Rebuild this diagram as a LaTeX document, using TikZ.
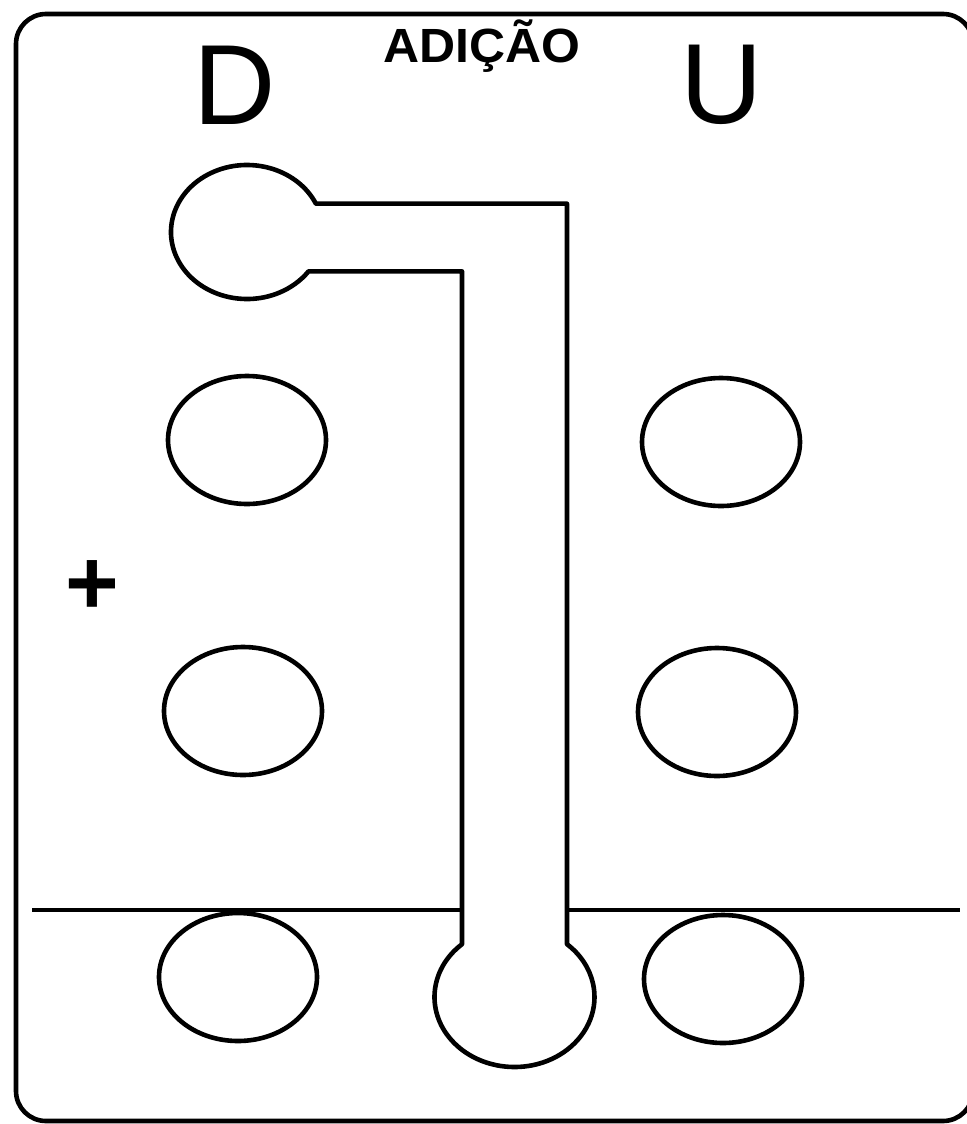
\documentclass[tikz,border=0pt]{standalone}
\usepackage{fontspec}
\setmainfont{Liberation Sans}
\usetikzlibrary{shapes.geometric}

\begin{document}
\begin{tikzpicture}[x=0.5pt,y=0.5pt,line join=round,
        hole/.style={draw,ellipse,line width=2.3pt,minimum width=79pt,minimum height=64pt,inner sep=0pt},
        edge/.style={line width=2.3pt},
        big/.style={anchor=base,inner sep=0pt,font=\fontsize{57}{57}\selectfont}]
        \useasboundingbox (0,0) rectangle (966,-1124);
        \draw[edge,rounded corners=15pt](16,-14) rectangle (973,-1121);
        % labels
        \node[big](dig) at (235,-124){D};
        \node[big](uni) at (722,-123){U};
        \node[anchor=base,inner sep=0pt,font=\fontsize{24}{24}\selectfont\bfseries,xscale=1.04](title) at (482,-62){ADIÇÃO};
        \node[inner sep=0pt,font=\fontsize{46}{46}\selectfont\bfseries](plus) at (92,-588){+};
        % holes
        \node[hole](d1) at (247,-440){};
        \node[hole](d2) at (243,-711){};
        \node[hole](d3) at (238,-977){};
        \node[hole](u1) at (721,-442){};
        \node[hole](u2) at (717,-712){};
        \node[hole](u3) at (723,-979){};
        % carry tube
        \coordinate (top) at (247,-232);
        \coordinate (bot) at (514.5,-997);
        \draw[edge]([shift={(25:76 and 67)}]top) arc[start angle=25,end angle=324,x radius=76,y radius=67]
          -| ([shift={(131:80 and 70)}]bot) arc[start angle=131,end angle=409,x radius=80,y radius=70]
          |- ([shift={(25:76 and 67)}]top) -- cycle;
        % separator
        \coordinate (sepL) at (32,-910);
        \coordinate (sepR) at (960,-910);
        \draw[edge](sepL)--(462,-910);\draw[edge](567,-910)--(sepR);
      \end{tikzpicture}
\end{document}
